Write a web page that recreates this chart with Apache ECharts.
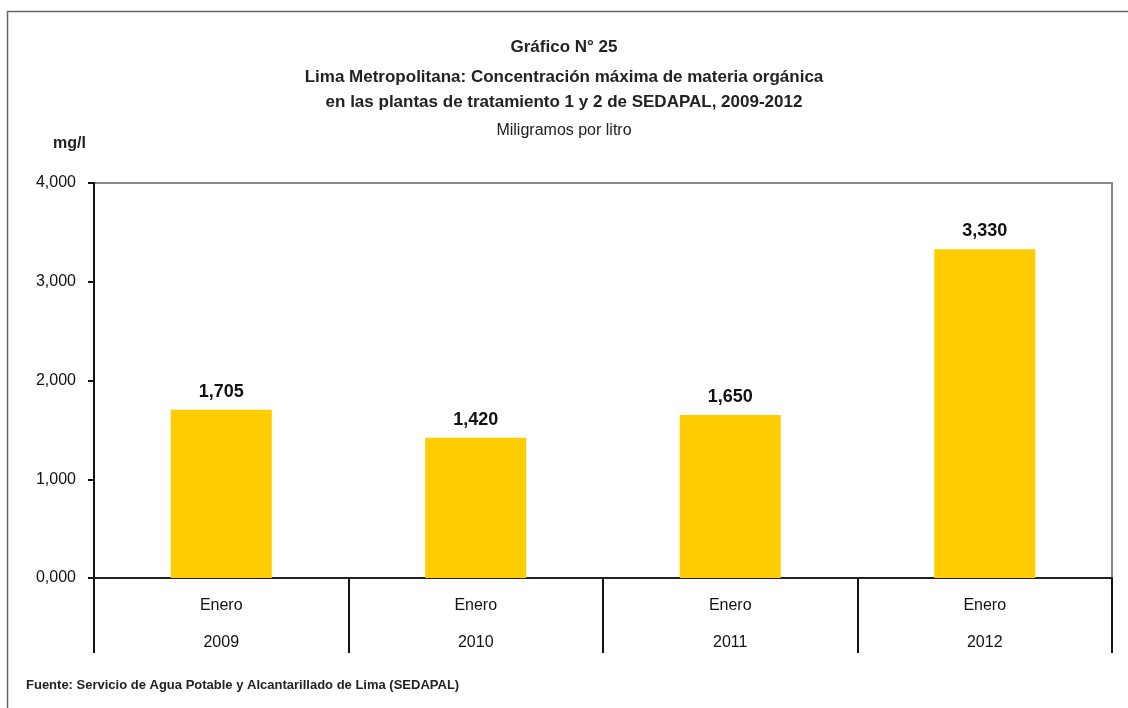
<!DOCTYPE html>
<html>
<head>
<meta charset="utf-8">
<script src="https://cdn.jsdelivr.net/npm/echarts@6/dist/echarts.min.js"></script>
<style>
  html, body { margin: 0; padding: 0; background: #fff; }
  #chart { width: 1128px; height: 708px; }
</style>
</head>
<body>
<div id="chart"></div>
<script>
// datos del gráfico
var meses = ['Enero', 'Enero', 'Enero', 'Enero'];
var anios = ['2009', '2010', '2011', '2012'];
var concentracion = [1.705, 1.420, 1.650, 3.330];

var FONT = '"Liberation Sans", Arial, sans-serif';

function fmt(v) {
    return Number(v).toFixed(3).replace('.', ',');
}

var myChart = echarts.init(document.getElementById('chart'), null, { renderer: 'canvas' });

var option = {
    backgroundColor: '#fff',
    animation: false,
    title: [
        { text: 'Gráfico N° 25', left: 'center', top: 34,
          textStyle: { fontFamily: FONT, fontSize: 17, fontWeight: 'bold', color: '#222' } },
        { text: 'Lima Metropolitana: Concentración máxima de materia orgánica', left: 'center', top: 64,
          textStyle: { fontFamily: FONT, fontSize: 17, fontWeight: 'bold', color: '#222' } },
        { text: 'en las plantas de tratamiento 1 y 2 de SEDAPAL, 2009-2012', left: 'center', top: 89,
          textStyle: { fontFamily: FONT, fontSize: 17, fontWeight: 'bold', color: '#222' } },
        { text: 'Miligramos por litro', left: 'center', top: 118,
          textStyle: { fontFamily: FONT, fontSize: 16, fontWeight: 'normal', color: '#222' } },
        { text: 'mg/l', left: 48, top: 131,
          textStyle: { fontFamily: FONT, fontSize: 16, fontWeight: 'bold', color: '#222' } },
        { text: 'Fuente: Servicio de Agua Potable y Alcantarillado de Lima (SEDAPAL)', left: 21, top: 674,
          textStyle: { fontFamily: FONT, fontSize: 13, fontWeight: 'bold', color: '#222' } }
    ],
    graphic: [{
        type: 'rect',
        left: 5, top: 9,
        shape: { width: 1200, height: 800 },
        style: { fill: 'none', stroke: '#666', lineWidth: 1.5 },
        silent: true
    }],
    grid: {
        left: 94, right: 16, top: 183, bottom: 130,
        show: true,
        borderColor: '#888',
        borderWidth: 2
    },
    xAxis: [{
        type: 'category',
        data: meses,
        axisLine: { lineStyle: { color: '#222', width: 2 } },
        axisTick: { show: true, length: 75, lineStyle: { color: '#111', width: 2 } },
        axisLabel: {
            fontFamily: FONT, fontSize: 16, color: '#111', margin: 9,
            formatter: function (value, idx) {
                return value + '\n' + anios[idx];
            },
            lineHeight: 37
        }
    }],
    yAxis: {
        type: 'value',
        min: 0, max: 4, interval: 1,
        axisLine: { show: true, lineStyle: { color: '#111', width: 2 } },
        axisTick: { show: true, length: 6, lineStyle: { color: '#111', width: 2 } },
        splitLine: { show: false },
        axisLabel: {
            fontFamily: FONT, fontSize: 16, color: '#111', margin: 18,
            formatter: fmt
        }
    },
    series: [{
        type: 'bar',
        data: concentracion,
        barWidth: 101,
        itemStyle: { color: '#FFCC00' },
        label: {
            show: true,
            position: 'top',
            distance: 9,
            fontFamily: FONT,
            fontSize: 18,
            fontWeight: 'bold',
            color: '#111',
            formatter: function (p) { return fmt(p.value); }
        }
    }]
};

myChart.setOption(option);
</script>
</body>
</html>
